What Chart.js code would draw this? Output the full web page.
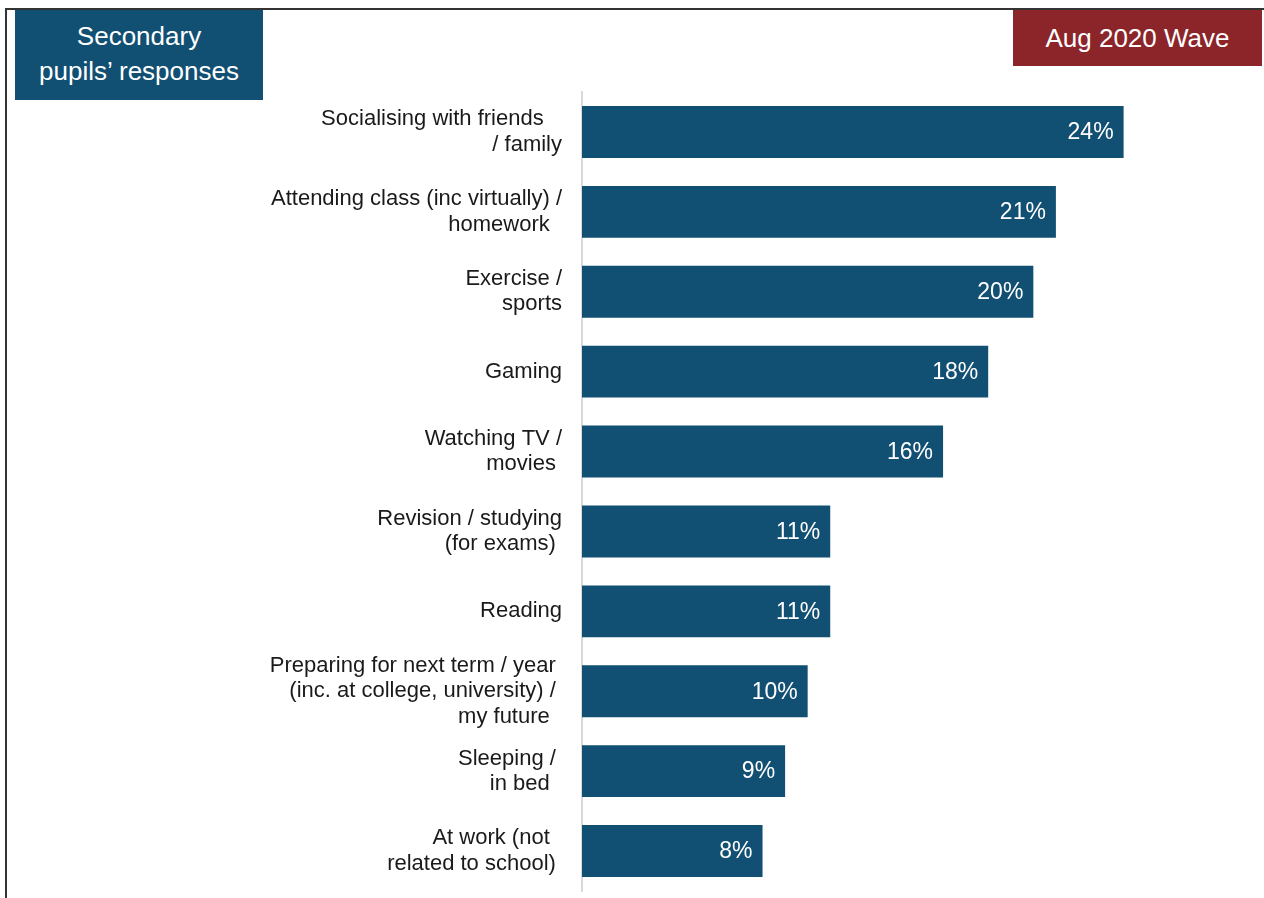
<!DOCTYPE html>
<html>
<head>
<meta charset="utf-8">
<script src="https://cdn.jsdelivr.net/npm/chart.js@4"></script>
<style>
body { margin: 0; background: #fff; font-family: "Liberation Sans", Arial, sans-serif; }
#wrap { position: relative; width: 1264px; height: 898px; overflow: hidden; }
#frame { position: absolute; left: 5px; top: 8px; width: 1300px; height: 900px; border-top: 2px solid #333; border-left: 2px solid #333; }
.box { position: absolute; color: #fff; text-align: center; font-size: 26px; }
#pupils { left: 15px; top: 10px; width: 248px; height: 90px; background: #114f73; line-height: 35px; padding-top: 9px; box-sizing: border-box; }
#wave { left: 1013px; top: 10px; width: 249px; height: 56px; background: #8b2529; line-height: 56px; }
canvas { position: absolute; left: 0; top: 0; }
</style>
</head>
<body>
<div id="wrap">
  <div id="frame"></div>
  <canvas id="activities" width="1264" height="898"></canvas>
  <div class="box" id="pupils">Secondary<br>pupils’ responses</div>
  <div class="box" id="wave">Aug 2020 Wave</div>
</div>
<script>
const labels = [
	['Socialising with friends   ', '/ family'],
	['Attending class (inc virtually) /', 'homework  '],
	['Exercise /', 'sports'],
	'Gaming',
	['Watching TV /', 'movies '],
	['Revision / studying', '(for exams) '],
	'Reading',
	['Preparing for next term / year ', '(inc. at college, university) / ', 'my future  '],
	['Sleeping / ', 'in bed  '],
	['At work (not  ', 'related to school) ']
];
const values = [24, 21, 20, 18, 16, 11, 11, 10, 9, 8];

const barLabels = {
	id: 'barLabels',
	afterDatasetsDraw(chart) {
		const ctx = chart.ctx;
		ctx.save();
		ctx.fillStyle = '#ffffff';
		ctx.font = '23px "Liberation Sans", Arial, sans-serif';
		ctx.textAlign = 'right';
		ctx.textBaseline = 'middle';
		chart.getDatasetMeta(0).data.forEach((bar, i) => {
			ctx.fillText(values[i] + '%', bar.x - 10, bar.y + 1);
		});
		ctx.restore();
	}
};

const ctx = document.getElementById('activities').getContext('2d');
const chart = new Chart(ctx, {
	type: 'bar',
	data: {
		labels: labels,
		datasets: [{
			data: values,
			backgroundColor: '#114f73',
			borderWidth: 0,
			barPercentage: 0.65,
			categoryPercentage: 1
		}]
	},
	options: {
		indexAxis: 'y',
		responsive: false,
		animation: false,
		layout: { padding: { top: 92, bottom: 7, right: 5, left: 0 } },
		plugins: { legend: { display: false }, tooltip: { enabled: false } },
		scales: {
			x: { display: false, min: 0, max: 30 },
			y: {
				afterFit: s => { s.width = 582; s.paddingTop = 0; s.paddingBottom = 0; },
				grid: { display: false, drawTicks: false },
				border: { display: true, color: '#d9d9d9', width: 2 },
				ticks: {
					autoSkip: false,
					padding: 20,
					color: '#1a1a1a',
					font: { family: '"Liberation Sans", Arial, sans-serif', size: 22, lineHeight: 1.15 }
				}
			}
		}
	},
	plugins: [barLabels]
});
</script>
</body>
</html>
